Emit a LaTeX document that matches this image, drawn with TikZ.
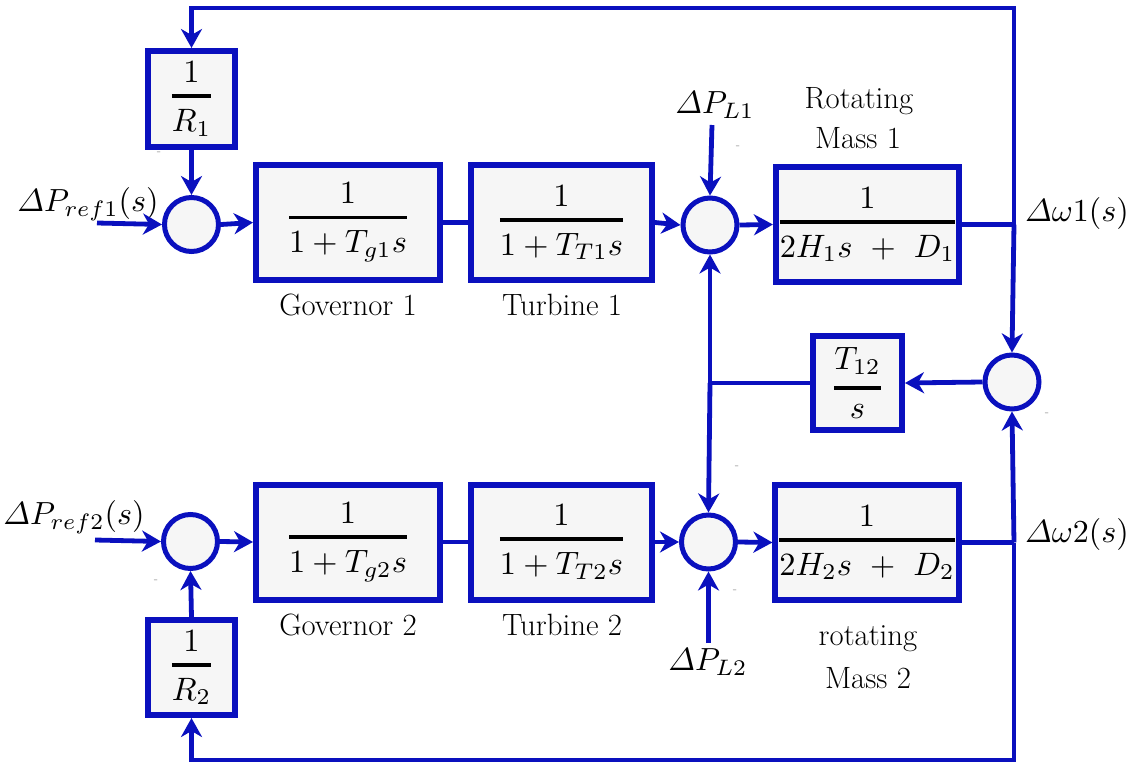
\documentclass[tikz,border=0pt]{standalone}
\usepackage{amsmath}
\usepackage{graphicx}
\usetikzlibrary{arrows.meta}
\definecolor{bl}{RGB}{10,16,190}
\definecolor{bxfill}{RGB}{246,246,246}
\definecolor{mkgray}{RGB}{160,160,160}
\newcommand\gfr[2]{\scalebox{1.62}{$\genfrac{}{}{1.15pt}{0}{#1}{#2}$}}
\newcommand\bm[1]{\scalebox{1.6}{$#1$}}
\begin{document}
\begin{tikzpicture}[x=0.5pt,y=-0.5pt,
  blk/.style={draw=bl, line width=3pt, fill=bxfill, inner sep=0pt},
  sum/.style={circle, draw=bl, line width=2.5pt, fill=bxfill, minimum size=27pt, inner sep=0pt},
  ln/.style={draw=bl, line width=2.4pt},
  arr/.style={ln, -{Stealth[length=9.5pt 0,width=10.5pt 0,inset=3pt 0]}},
  lbl/.style={font=\fontsize{15.4}{18}\selectfont, inner sep=0pt},
  mlbl/.style={inner sep=0pt},
  mk/.style={font=\fontsize{5}{5}\selectfont, text=mkgray, inner sep=0pt}]
\useasboundingbox (0,0) rectangle (1132,766);

% blocks
\node[blk, minimum width=43.5pt, minimum height=48pt] (R1) at (191.5,99) {\gfr{1}{R_1}};
\node[blk, minimum width=43.5pt, minimum height=47.5pt] (R2) at (191.5,667.5) {\gfr{1}{R_2}};
\node[blk, minimum width=92pt, minimum height=57.5pt] (G1) at (348,222.5) {\gfr{1}{1+T_{g1}s}};
\node[blk, minimum width=90.5pt, minimum height=57.5pt] (T1) at (561.5,222.5) {\gfr{1}{1+T_{T1}s}};
\node[blk, minimum width=91.5pt, minimum height=57.5pt] (M1) at (867.5,224.5) {\gfr{1}{2H_1s\ +\ D_1}};
\node[blk, minimum width=92pt, minimum height=57.5pt] (G2) at (348,542) {\gfr{1}{1+T_{g2}s}};
\node[blk, minimum width=90.5pt, minimum height=57.5pt] (T2) at (561.5,542) {\gfr{1}{1+T_{T2}s}};
\node[blk, minimum width=91.5pt, minimum height=57.5pt] (M2) at (867,542.5) {\gfr{1}{2H_2s\ +\ D_2}};
\node[blk, minimum width=44.5pt, minimum height=47pt] (T12) at (857.5,383) {\gfr{T_{12}}{s}};

% summing junctions
\node[sum] (S1) at (191.5,224.5) {};
\node[sum] (S2) at (710,225) {};
\node[sum] (S3) at (1012,382) {};
\node[sum] (S4) at (708.5,542) {};
\node[sum] (S5) at (190.5,541.5) {};

% labels
\node[mlbl] (Lref1) at (88,204) {\bm{\varDelta P_{ref1}(s)}};
\node[mlbl] (Lref2) at (74,517) {\bm{\varDelta P_{ref2}(s)}};
\node[mlbl] (LPL1) at (715,105) {\bm{\varDelta P_{L1}}};
\node[mlbl] (LPL2) at (708,662) {\bm{\varDelta P_{L2}}};
\node[mlbl] (Lw1) at (1077,213) {\bm{\varDelta\omega1(s)}};
\node[mlbl] (Lw2) at (1077,534) {\bm{\varDelta\omega2(s)}};
\node[lbl] (Lgov1) at (348,305) {Governor 1};
\node[lbl] (Ltur1) at (562,305) {Turbine 1};
\node[lbl] (Lgov2) at (348,625) {Governor 2};
\node[lbl] (Ltur2) at (562,625) {Turbine 2};
\node[lbl] (Lrm1a) at (859,101) {Rotating};
\node[lbl] (Lrm1b) at (858,138) {Mass 1};
\node[lbl] (Lrm2a) at (868,639) {rotating};
\node[lbl] (Lrm2b) at (868,678) {Mass 2};

% tiny sign marks
\node[mk] (m1) at (159,153) {-};
\node[mk] (m2) at (738,147) {-};
\node[mk] (m3) at (156,581) {-};
\node[mk] (m4) at (737,467) {-};
\node[mk] (m5) at (735,591) {-};
\node[mk] (m6) at (1047,414) {-};

% free ends
\coordinate (in1) at (97,223);
\coordinate (in2) at (95,540);
\coordinate (pl1) at (712,125);
\coordinate (pl2) at (708.5,643);
\coordinate (tr) at (1014,8);
\coordinate (br) at (1014,760);
\coordinate (w1) at (M1.east -| tr);
\coordinate (w2) at (M2.east -| br);
\coordinate (j) at (T12.west -| S2.south);

% connectors: area 1
\draw[arr] (in1) -- (S1.west);
\draw[arr] (R1.south) -- (S1.north);
\draw[arr] (S1.east) -- (G1.west);
\draw[ln] (G1.east) -- (T1.west);
\draw[arr] (T1.east) -- (S2.west);
\draw[arr] (pl1) -- (S2.north);
\draw[arr] (S2.east) -- (M1.west);
\draw[ln] (M1.east) -- (w1);
\draw[arr] (w1) -- (tr) -| (R1.north);
\draw[arr] (w1) -- (S3.north);

% tie line
\draw[arr] (S3.west) -- (T12.east);
\draw[ln] (T12.west) -- (j);
\draw[arr] (j) -- (S2.south);
\draw[arr] (j) -- (S4.north);

% connectors: area 2
\draw[arr] (in2) -- (S5.west);
\draw[arr] (R2.north) -- (S5.south);
\draw[arr] (S5.east) -- (G2.west);
\draw[ln] (G2.east) -- (T2.west);
\draw[arr] (T2.east) -- (S4.west);
\draw[arr] (pl2) -- (S4.south);
\draw[arr] (S4.east) -- (M2.west);
\draw[ln] (M2.east) -- (w2);
\draw[arr] (w2) -- (br) -| (R2.south);
\draw[arr] (w2) -- (S3.south);
\end{tikzpicture}
\end{document}
